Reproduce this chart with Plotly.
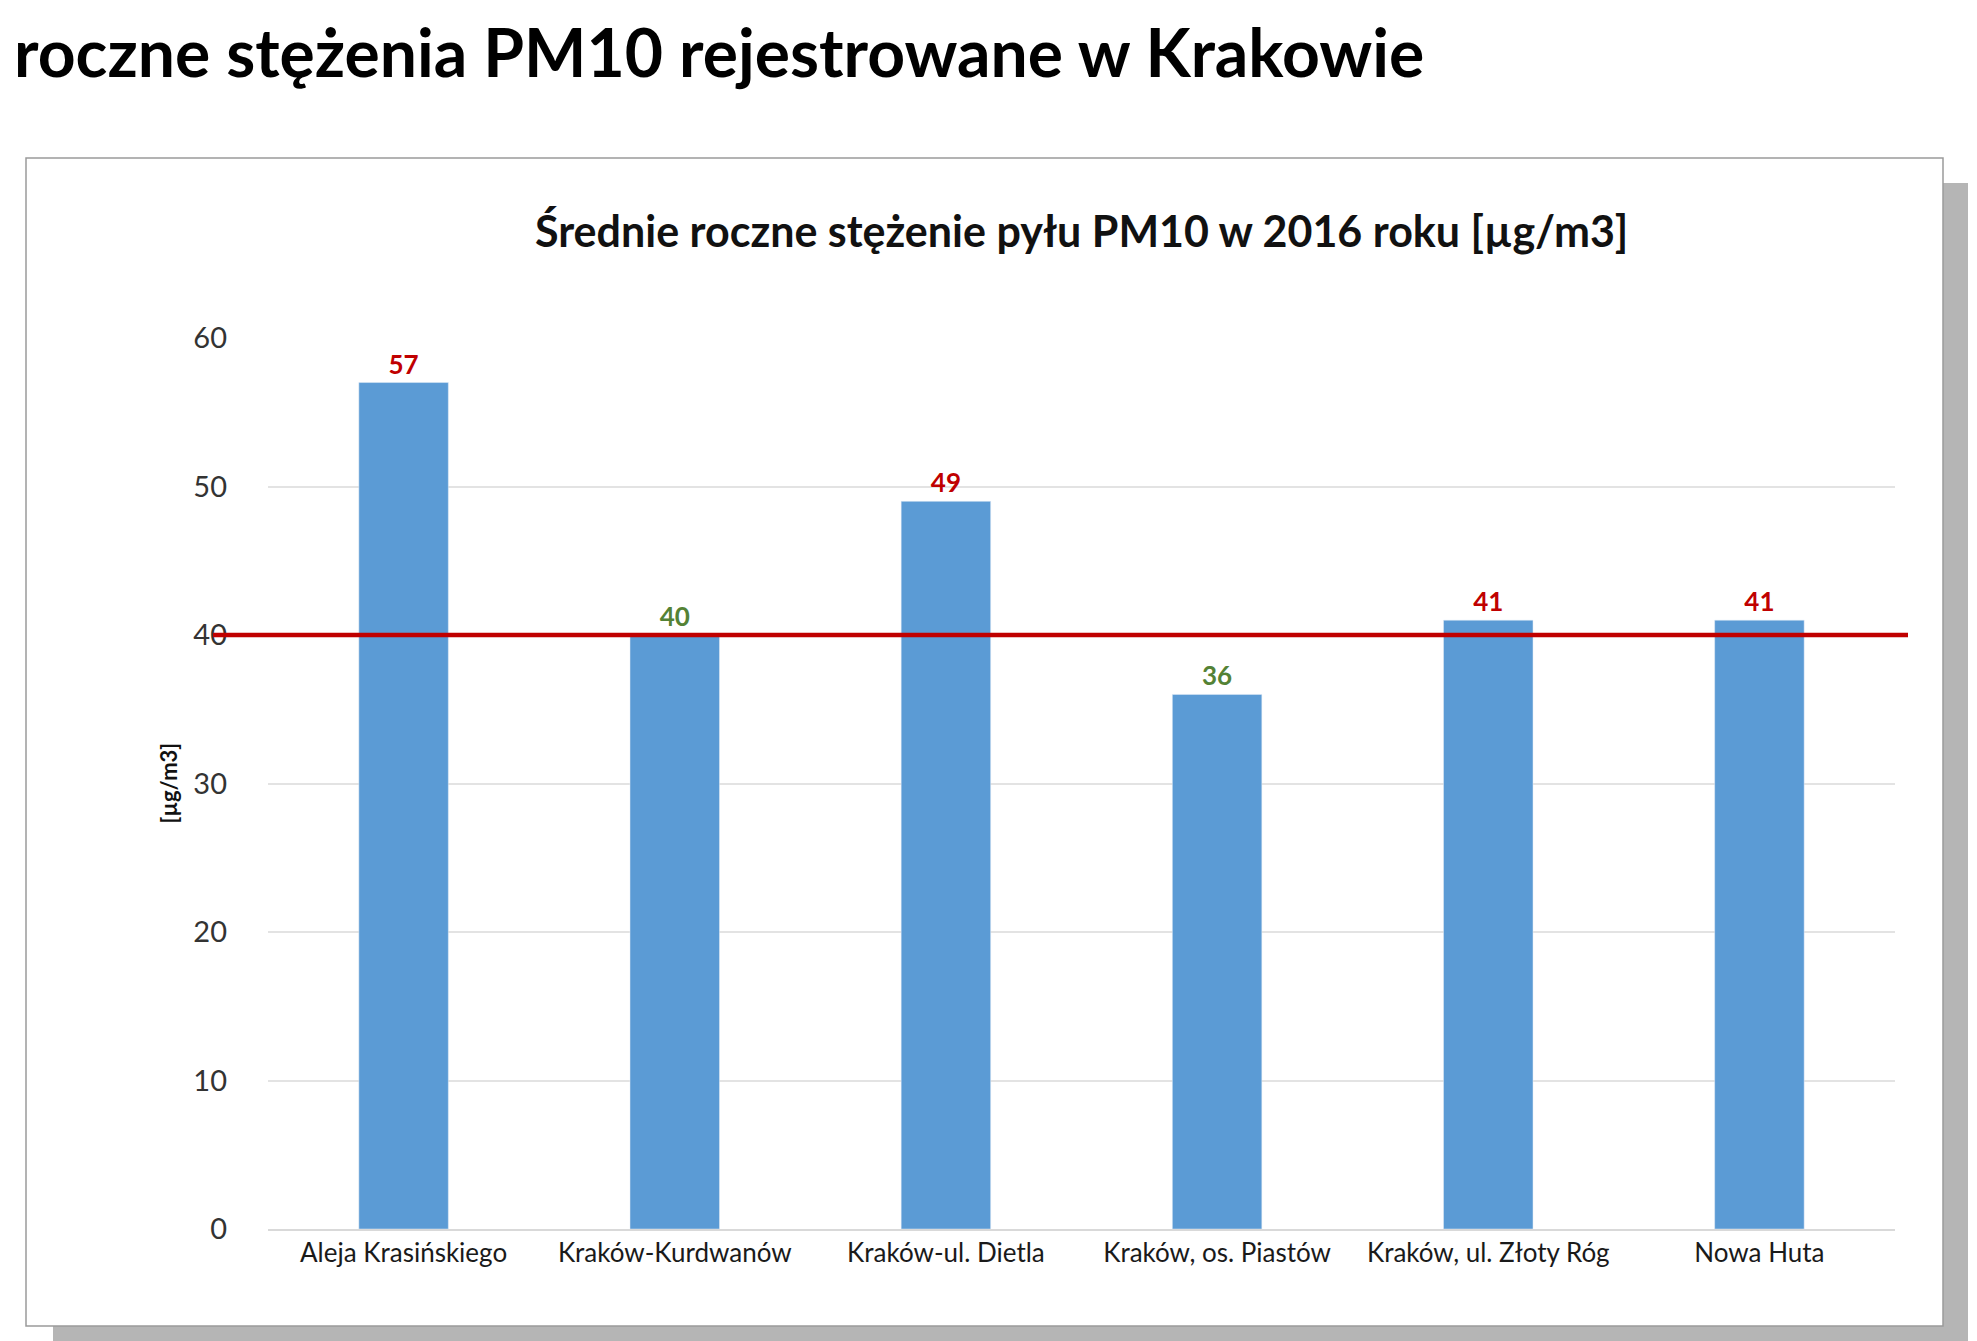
import plotly.graph_objects as go

stations = ["Aleja Krasińskiego", "Kraków-Kurdwanów", "Kraków-ul. Dietla",
            "Kraków, os. Piastów", "Kraków, ul. Złoty Róg", "Nowa Huta"]
pm10 = [57, 40, 49, 36, 41, 41]
limit_value = 40
y_ticks = [0, 10, 20, 30, 40, 50, 60]

W, H = 1977, 1341
L, R, T, B = 260, 90, 330, 120
PW, PH = W - L - R, H - T - B

def px(x):
    return (x - L) / PW

def py(y):
    return (H - B - y) / PH

label_colors = ["#C00000" if v > limit_value else "#548235" for v in pm10]

fig = go.Figure()
fig.add_trace(go.Bar(
    x=stations, y=pm10, marker_color="#5B9BD5", width=0.33,
    text=["<b>%d</b>" % v for v in pm10], textposition="outside",
    textfont=dict(family="Lato", size=26, color=label_colors),
    cliponaxis=False, showlegend=False,
))

shapes = [
    dict(type="rect", xref="paper", yref="paper", layer="below",
         x0=px(45), x1=px(1960), y0=py(175), y1=py(1338),
         fillcolor="#b5b5b5", line=dict(width=0)),
    dict(type="rect", xref="paper", yref="paper", layer="below",
         x0=px(18), x1=px(1935), y0=py(150), y1=py(1318),
         fillcolor="white", line=dict(color="#9a9a9a", width=1.5)),
    dict(type="line", xref="paper", yref="y", x0=px(205), x1=px(1900),
         y0=limit_value, y1=limit_value,
         line=dict(color="#C00000", width=4.5)),
]

annotations = [
    dict(text="<b>Średnie roczne stężenie pyłu PM10 w 2016 roku [µg/m3]</b>",
         xref="paper", yref="paper", x=0.5, y=py(222), xanchor="center",
         yanchor="middle", showarrow=False,
         font=dict(family="Lato", size=43, color="#111111")),
    dict(text="<b>[µg/m3]</b>", xref="paper", yref="paper", x=px(160),
         y=0.5, textangle=-90, showarrow=False, xanchor="center",
         font=dict(family="Lato", size=22, color="#111111")),
    dict(text="<b>roczne stężenia PM10 rejestrowane w Krakowie</b>",
         xref="paper", yref="paper", x=px(4), y=py(2), xanchor="left",
         yanchor="top", showarrow=False,
         font=dict(family="Lato", size=66, color="#000000")),
]

fig.update_layout(
    width=W, height=H,
    margin=dict(l=L, r=R, t=T, b=B),
    paper_bgcolor="white", plot_bgcolor="white",
    shapes=shapes, annotations=annotations,
    font=dict(family="Lato", color="#404040"),
)
fig.update_xaxes(showgrid=False, showline=True, linecolor="#d9d9d9",
                 linewidth=1.5, ticks="", tickfont=dict(size=26, color="#1a1a1a"))
fig.update_yaxes(range=[0, 60], tickvals=y_ticks, showgrid=True,
                 gridcolor="#e3e3e3", gridwidth=1.5, zeroline=False,
                 showline=False, tickfont=dict(size=29, color="#333333"),
                 ticklen=0, ticklabelstandoff=40)

fig.write_html("out.html")
